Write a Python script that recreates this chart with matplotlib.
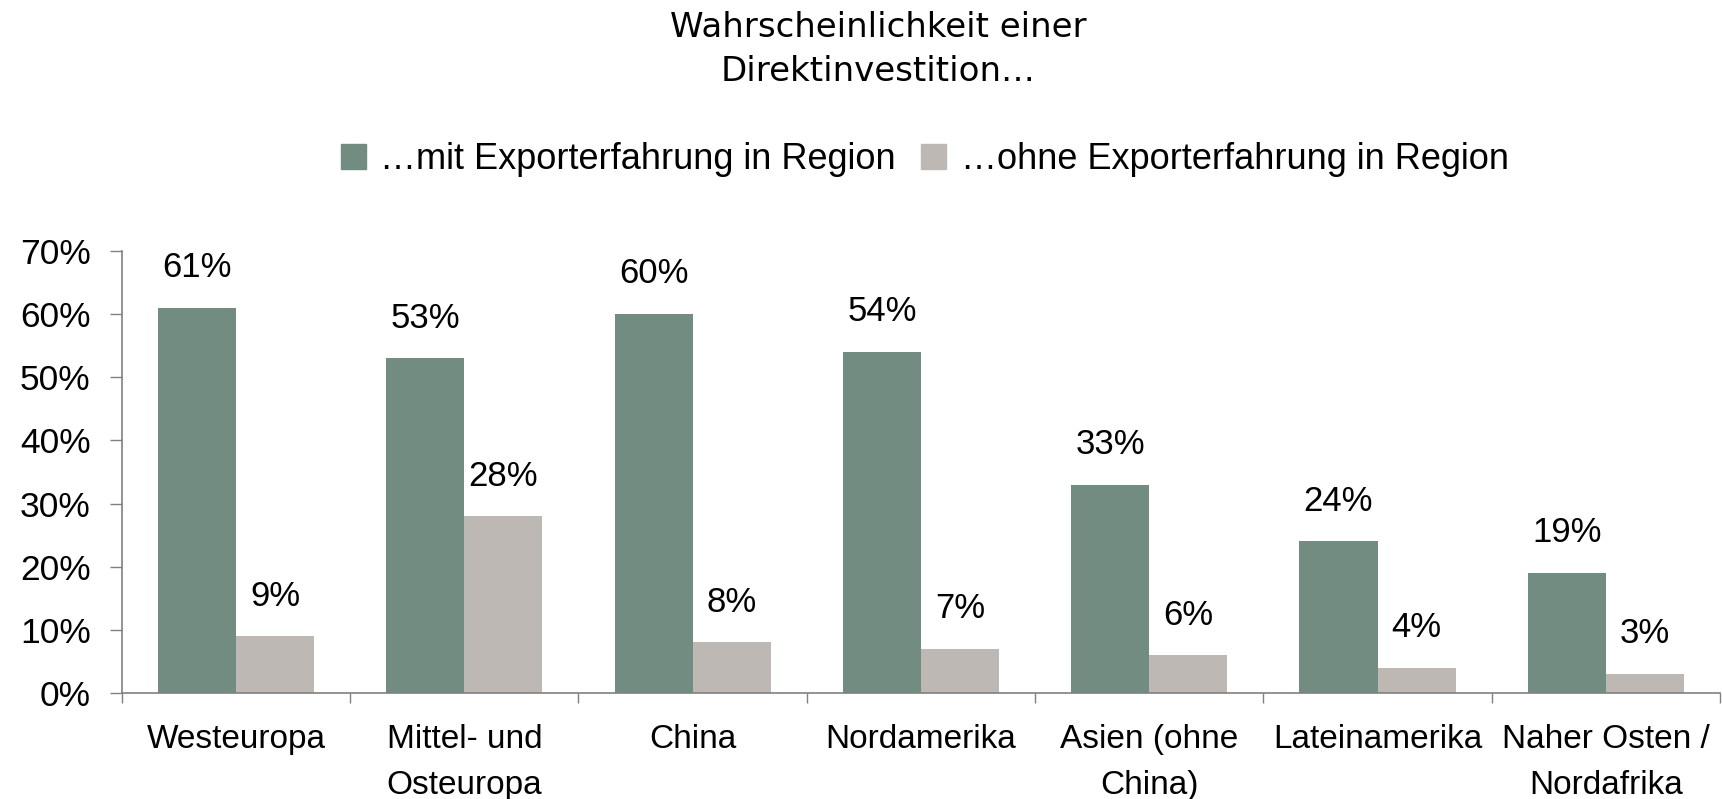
import matplotlib
matplotlib.use("Agg")
from matplotlib import pyplot as plt
from matplotlib.patches import Patch
import numpy as np

regions = ["Westeuropa", "Mittel- und\nOsteuropa", "China", "Nordamerika",
           "Asien (ohne\nChina)", "Lateinamerika", "Naher Osten /\nNordafrika"]
mit_export = [61, 53, 60, 54, 33, 24, 19]
ohne_export = [9, 28, 8, 7, 6, 4, 3]
series_names = ["…mit Exporterfahrung in Region", "…ohne Exporterfahrung in Region"]
yticks = [0, 10, 20, 30, 40, 50, 60, 70]

green = "#728C82"
grey = "#BDB8B3"
axis_col = "#808080"

plt.rcParams["font.family"] = ["Liberation Sans", "DejaVu Sans"]


def main():
    fig = plt.figure(figsize=(17.22, 7.99), dpi=100)
    ax = fig.add_axes([0.0708, 0.1327, 0.9280, 0.5533])

    x = np.arange(len(regions))
    w = 0.342
    b1 = ax.bar(x - w / 2, mit_export, w, color=green)
    b2 = ax.bar(x + w / 2, ohne_export, w, color=grey)

    for bars, vals in ((b1, mit_export), (b2, ohne_export)):
        for r, v in zip(bars, vals):
            ax.annotate(f"{v}%", (r.get_x() + r.get_width() / 2, v),
                        xytext=(0, 22), textcoords="offset points",
                        ha="center", va="baseline", fontsize=25)

    ax.set_xlim(-0.5, len(regions) - 0.5)
    ax.set_ylim(0, 70)
    ax.set_yticks(yticks)
    ax.set_yticklabels([f"{t}%" for t in yticks], fontsize=25.5)
    ax.tick_params(axis="y", length=8.5, width=1, color=axis_col, pad=14)

    # group borders as major ticks, names as minor ticks
    ax.set_xticks(np.arange(len(regions) + 1) - 0.5)
    ax.set_xticklabels([])
    ax.tick_params(axis="x", which="major", length=7, width=1, color=axis_col)
    ax.set_xticks(x, minor=True)
    ax.set_xticklabels(regions, minor=True, fontsize=24, linespacing=1.65)
    ax.tick_params(axis="x", which="minor", length=0, pad=22)

    for s in ("top", "right"):
        ax.spines[s].set_visible(False)
    for s in ("left", "bottom"):
        ax.spines[s].set_color(axis_col)
        ax.spines[s].set_linewidth(1.2)

    handles = [Patch(color=green), Patch(color=grey)]
    fig.legend(handles, series_names, loc="center", bbox_to_anchor=(0.537, 0.80),
               ncol=2, frameon=False, handlelength=0.7, handleheight=0.7,
               handletextpad=0.4, columnspacing=0.7, fontsize=26)

    fig.text(0.51, 0.938, "Wahrscheinlichkeit einer\nDirektinvestition…",
             ha="center", va="center", fontsize=24.5, linespacing=1.42,
             family=["DejaVu Sans"])

    plt.savefig("out.png", dpi=100)
    plt.close()


if __name__ == "__main__":
    main()
